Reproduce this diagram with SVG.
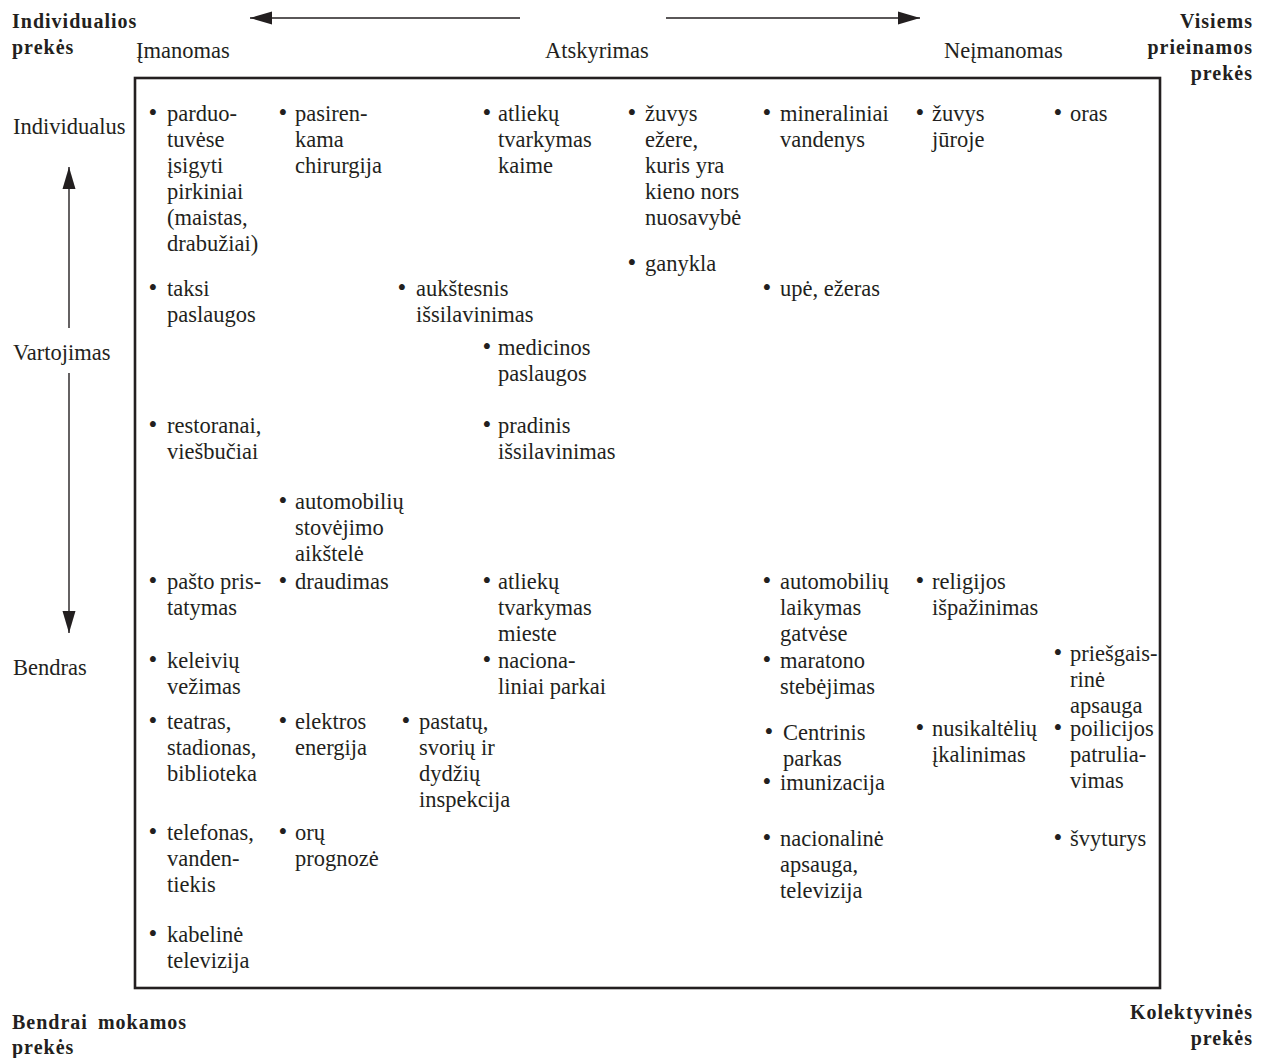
<svg xmlns="http://www.w3.org/2000/svg" width="1267" height="1058" viewBox="0 0 1267 1058">
<style>
text{font-family:"Liberation Serif","Times New Roman",serif;fill:#231f20}
.t{font-size:22.5px}
.b{font-size:25px;text-anchor:middle}
.h{font-size:22.5px}
.bold{font-size:20px;font-weight:bold;letter-spacing:1px}
.end{text-anchor:end}
.ln{stroke:#231f20;stroke-width:1.4;fill:none}
</style>
<defs>
<marker id="ah" markerUnits="userSpaceOnUse" markerWidth="22" markerHeight="14" refX="22" refY="7" orient="auto">
<path d="M0,0.5 L22,7 L0,13.5 z" fill="#231f20"/>
</marker>
</defs>

<rect id="frame" x="135" y="78" width="1025" height="910" fill="none" stroke="#231f20" stroke-width="2.6"/>

<g id="connectors">
<line class="ln" x1="520" y1="18" x2="250" y2="18" marker-end="url(#ah)"/>
<line class="ln" x1="666" y1="18" x2="920" y2="18" marker-end="url(#ah)"/>
<line class="ln" x1="69" y1="328" x2="69" y2="167" marker-end="url(#ah)"/>
<line class="ln" x1="69" y1="373" x2="69" y2="633" marker-end="url(#ah)"/>
</g>

<g id="labels">
<text class="bold" x="12" y="28">Individualios</text>
<text class="bold" x="12" y="54">prekės</text>
<text class="bold end" x="1253" y="28">Visiems</text>
<text class="bold end" x="1253" y="54">prieinamos</text>
<text class="bold end" x="1253" y="80">prekės</text>
<text class="bold" x="12" y="1029" word-spacing="4" letter-spacing="1.4">Bendrai mokamos</text>
<text class="bold" x="12" y="1054" letter-spacing="1.4">prekės</text>
<text class="bold end" x="1253" y="1019">Kolektyvinės</text>
<text class="bold end" x="1253" y="1045">prekės</text>
<text class="h" x="136" y="58">Įmanomas</text>
<text class="h" x="545" y="58">Atskyrimas</text>
<text class="h" x="944" y="58">Neįmanomas</text>
<text class="h" x="13" y="134">Individualus</text>
<text class="h" x="13" y="360">Vartojimas</text>
<text class="h" x="13" y="675">Bendras</text>
</g>

<g id="n-parduotuves"><text class="b" x="153" y="121">•</text><text class="t" y="121"><tspan x="167">parduo-</tspan><tspan x="167" dy="26">tuvėse</tspan><tspan x="167" dy="26">įsigyti</tspan><tspan x="167" dy="26">pirkiniai</tspan><tspan x="167" dy="26">(maistas,</tspan><tspan x="167" dy="26">drabužiai)</tspan></text></g>
<g id="n-taksi"><text class="b" x="153" y="296">•</text><text class="t" y="296"><tspan x="167">taksi</tspan><tspan x="167" dy="26">paslaugos</tspan></text></g>
<g id="n-restoranai"><text class="b" x="153" y="433">•</text><text class="t" y="433"><tspan x="167">restoranai,</tspan><tspan x="167" dy="26">viešbučiai</tspan></text></g>
<g id="n-pasto"><text class="b" x="153" y="589">•</text><text class="t" y="589"><tspan x="167">pašto pris-</tspan><tspan x="167" dy="26">tatymas</tspan></text></g>
<g id="n-keleiviu"><text class="b" x="153" y="668">•</text><text class="t" y="668"><tspan x="167">keleivių</tspan><tspan x="167" dy="26">vežimas</tspan></text></g>
<g id="n-teatras"><text class="b" x="153" y="729">•</text><text class="t" y="729"><tspan x="167">teatras,</tspan><tspan x="167" dy="26">stadionas,</tspan><tspan x="167" dy="26">biblioteka</tspan></text></g>
<g id="n-telefonas"><text class="b" x="153" y="840">•</text><text class="t" y="840"><tspan x="167">telefonas,</tspan><tspan x="167" dy="26">vanden-</tspan><tspan x="167" dy="26">tiekis</tspan></text></g>
<g id="n-kabeline"><text class="b" x="153" y="942">•</text><text class="t" y="942"><tspan x="167">kabelinė</tspan><tspan x="167" dy="26">televizija</tspan></text></g>

<g id="n-pasirenkama"><text class="b" x="283" y="121">•</text><text class="t" y="121"><tspan x="295">pasiren-</tspan><tspan x="295" dy="26">kama</tspan><tspan x="295" dy="26">chirurgija</tspan></text></g>
<g id="n-automobiliu-stovejimo"><text class="b" x="283" y="509">•</text><text class="t" y="509"><tspan x="295">automobilių</tspan><tspan x="295" dy="26">stovėjimo</tspan><tspan x="295" dy="26">aikštelė</tspan></text></g>
<g id="n-draudimas"><text class="b" x="283" y="589">•</text><text class="t" y="589"><tspan x="295">draudimas</tspan></text></g>
<g id="n-elektros"><text class="b" x="283" y="729">•</text><text class="t" y="729"><tspan x="295">elektros</tspan><tspan x="295" dy="26">energija</tspan></text></g>
<g id="n-oru"><text class="b" x="283" y="840">•</text><text class="t" y="840"><tspan x="295">orų</tspan><tspan x="295" dy="26">prognozė</tspan></text></g>

<g id="n-aukstesnis"><text class="b" x="402" y="296">•</text><text class="t" y="296"><tspan x="416">aukštesnis</tspan><tspan x="416" dy="26">išsilavinimas</tspan></text></g>
<g id="n-pastatu"><text class="b" x="406" y="729">•</text><text class="t" y="729"><tspan x="419">pastatų,</tspan><tspan x="419" dy="26">svorių ir</tspan><tspan x="419" dy="26">dydžių</tspan><tspan x="419" dy="26">inspekcija</tspan></text></g>

<g id="n-atlieku-kaime"><text class="b" x="487" y="121">•</text><text class="t" y="121"><tspan x="498">atliekų</tspan><tspan x="498" dy="26">tvarkymas</tspan><tspan x="498" dy="26">kaime</tspan></text></g>
<g id="n-medicinos"><text class="b" x="487" y="355">•</text><text class="t" y="355"><tspan x="498">medicinos</tspan><tspan x="498" dy="26">paslaugos</tspan></text></g>
<g id="n-pradinis"><text class="b" x="487" y="433">•</text><text class="t" y="433"><tspan x="498">pradinis</tspan><tspan x="498" dy="26">išsilavinimas</tspan></text></g>
<g id="n-atlieku-mieste"><text class="b" x="487" y="589">•</text><text class="t" y="589"><tspan x="498">atliekų</tspan><tspan x="498" dy="26">tvarkymas</tspan><tspan x="498" dy="26">mieste</tspan></text></g>
<g id="n-nacionaliniai-parkai"><text class="b" x="487" y="668">•</text><text class="t" y="668"><tspan x="498">naciona-</tspan><tspan x="498" dy="26">liniai parkai</tspan></text></g>

<g id="n-zuvys-ezere"><text class="b" x="632" y="121">•</text><text class="t" y="121"><tspan x="645">žuvys</tspan><tspan x="645" dy="26">ežere,</tspan><tspan x="645" dy="26">kuris yra</tspan><tspan x="645" dy="26">kieno nors</tspan><tspan x="645" dy="26">nuosavybė</tspan></text></g>
<g id="n-ganykla"><text class="b" x="632" y="271">•</text><text class="t" y="271"><tspan x="645">ganykla</tspan></text></g>

<g id="n-mineraliniai"><text class="b" x="767" y="121">•</text><text class="t" y="121"><tspan x="780">mineraliniai</tspan><tspan x="780" dy="26">vandenys</tspan></text></g>
<g id="n-upe"><text class="b" x="767" y="296">•</text><text class="t" y="296"><tspan x="780">upė, ežeras</tspan></text></g>
<g id="n-automobiliu-laikymas"><text class="b" x="767" y="589">•</text><text class="t" y="589"><tspan x="780">automobilių</tspan><tspan x="780" dy="26">laikymas</tspan><tspan x="780" dy="26">gatvėse</tspan></text></g>
<g id="n-maratono"><text class="b" x="767" y="668">•</text><text class="t" y="668"><tspan x="780">maratono</tspan><tspan x="780" dy="26">stebėjimas</tspan></text></g>
<g id="n-centrinis"><text class="b" x="769" y="740">•</text><text class="t" y="740"><tspan x="783">Centrinis</tspan><tspan x="783" dy="26">parkas</tspan></text></g>
<g id="n-imunizacija"><text class="b" x="767" y="790">•</text><text class="t" y="790"><tspan x="780">imunizacija</tspan></text></g>
<g id="n-nacionaline"><text class="b" x="767" y="846">•</text><text class="t" y="846"><tspan x="780">nacionalinė</tspan><tspan x="780" dy="26">apsauga,</tspan><tspan x="780" dy="26">televizija</tspan></text></g>

<g id="n-zuvys-juroje"><text class="b" x="920" y="121">•</text><text class="t" y="121"><tspan x="932">žuvys</tspan><tspan x="932" dy="26">jūroje</tspan></text></g>
<g id="n-religijos"><text class="b" x="920" y="589">•</text><text class="t" y="589"><tspan x="932">religijos</tspan><tspan x="932" dy="26">išpažinimas</tspan></text></g>
<g id="n-nusikalteliu"><text class="b" x="920" y="736">•</text><text class="t" y="736"><tspan x="932">nusikaltėlių</tspan><tspan x="932" dy="26">įkalinimas</tspan></text></g>

<g id="n-oras"><text class="b" x="1058" y="121">•</text><text class="t" y="121"><tspan x="1070">oras</tspan></text></g>
<g id="n-priesgaisrine"><text class="b" x="1058" y="661">•</text><text class="t" y="661"><tspan x="1070">priešgais-</tspan><tspan x="1070" dy="26">rinė</tspan><tspan x="1070" dy="26">apsauga</tspan></text></g>
<g id="n-policijos"><text class="b" x="1058" y="736">•</text><text class="t" y="736"><tspan x="1070">poilicijos</tspan><tspan x="1070" dy="26">patrulia-</tspan><tspan x="1070" dy="26">vimas</tspan></text></g>
<g id="n-svyturys"><text class="b" x="1058" y="846">•</text><text class="t" y="846"><tspan x="1070">švyturys</tspan></text></g>
</svg>
